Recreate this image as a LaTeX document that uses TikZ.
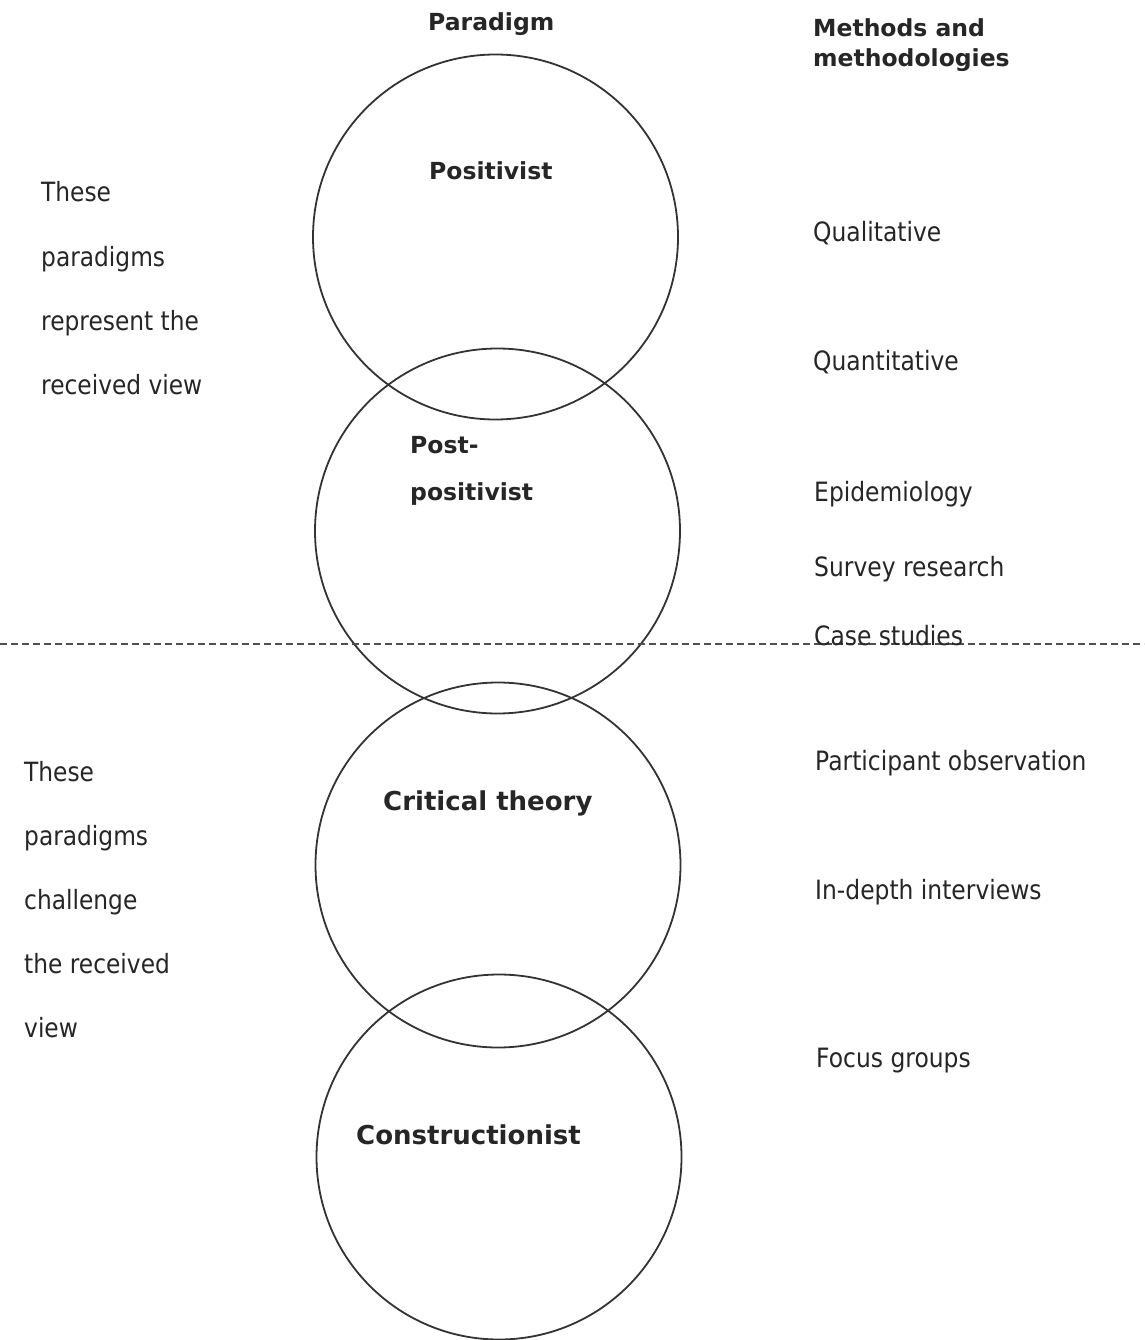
\documentclass[tikz,border=0pt]{standalone}
\usepackage{fontspec}
\setmainfont{DejaVu Sans}
\newfontfamily\plainfont[FakeStretch=0.88]{DejaVu Sans}
\definecolor{ink}{HTML}{262626}
\definecolor{ring}{HTML}{333333}
\definecolor{rule}{HTML}{505050}
\begin{document}
\begin{tikzpicture}[x=1pt,y=-1pt,
  paradigm/.style={circle,draw=ring,line width=1.8pt,minimum size=365pt,inner sep=0pt},
  head/.style={anchor=base west,inner sep=0pt,text=ink,font=\bfseries\fontsize{23.5}{29}\selectfont},
  big/.style={anchor=base west,inner sep=0pt,text=ink,font=\bfseries\fontsize{26}{30}\selectfont},
  txt/.style={anchor=base west,inner sep=0pt,text=ink,font=\plainfont\fontsize{26.5}{30}\selectfont},
  method/.style={anchor=base west,inner sep=0pt,text=ink,font=\plainfont\fontsize{26.6}{30}\selectfont}]
\useasboundingbox[fill=white] (0,0) rectangle (1144,1340);

% paradigm circles
\node[paradigm] (pos)  at (495.5,237) {};
\node[paradigm] (post) at (497.5,531) {};
\node[paradigm] (crit) at (498,865) {};
\node[paradigm] (cons) at (499,1157) {};

% divide between received view and challengers
\coordinate (divL) at (0,644);
\coordinate (divR) at (1144,644);
\draw[rule,line width=1.5pt,dash pattern=on 7pt off 4pt] (divL) -- (divR);

% column headings
\node[head] (hpar) at (428,31) {Paradigm};
\node[head] (hm1) at (813,37) {Methods and};
\node[head] (hm2) at (813,67) {methodologies};

% paradigm labels
\node[head] (lpos) at (429,180) {Positivist};
\node[head] (lpost1) at (410,453) {Post-};
\node[head] (lpost2) at (410,500) {positivist};
\node[big] (lcrit) at (383,810) {Critical theory};
\node[big] (lcons) at (356,1144) {Constructionist};

% left-hand notes
\node[txt] (a1) at (41,202) {These};
\node[txt] (a2) at (41,266) {paradigms};
\node[txt] (a3) at (41,330) {represent the};
\node[txt] (a4) at (41,394) {received view};

\node[txt] (b1) at (24,781) {These};
\node[txt] (b2) at (24,845) {paradigms};
\node[txt] (b3) at (24,909) {challenge};
\node[txt] (b4) at (24,973) {the received};
\node[txt] (b5) at (24,1037) {view};

% methods column
\node[method] (m1) at (813,241) {Qualitative};
\node[method] (m2) at (813,370) {Quantitative};
\node[method] (m3) at (814,501) {Epidemiology};
\node[method] (m4) at (814,576) {Survey research};
\node[method] (m5) at (814,645) {Case studies};
\node[method] (m6) at (815,770) {Participant observation};
\node[method] (m7) at (815,899) {In-depth interviews};
\node[method] (m8) at (816,1067) {Focus groups};
\end{tikzpicture}
\end{document}
